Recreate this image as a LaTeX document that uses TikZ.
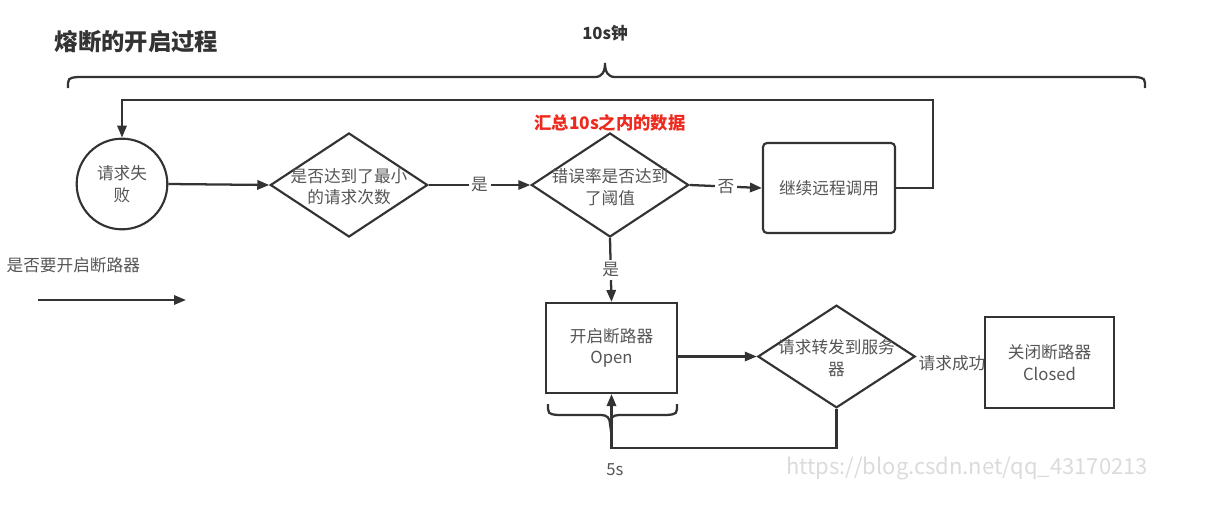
\documentclass[tikz,border=0pt]{standalone}
\usepackage{fontspec}
\setmainfont{Noto Sans CJK SC}
\usetikzlibrary{shapes.geometric,arrows.meta}
\definecolor{ln}{HTML}{333333}
\definecolor{tx}{HTML}{555555}
\definecolor{rd}{HTML}{EE2A1E}
\begin{document}
\begin{tikzpicture}[x=0.75pt,y=-0.75pt,
  conn/.style={draw=ln,line width=1.7pt},
  arr/.style={draw=ln,line width=1.7pt,-{Triangle[length=9pt,width=7pt]}},
  shp/.style={draw=ln,line width=1.6pt,inner sep=0pt,fill=white},
  txt/.style={text=tx,font=\fontsize{12.5}{16}\selectfont,align=center,inner sep=1pt},
  lbl/.style={txt,fill=white,inner sep=2pt},
  dia/.style={shp,diamond,minimum width=118pt,minimum height=78pt}
]
\useasboundingbox (0,0) rectangle (1207,532);

% title and top brace
\node[anchor=west,text=ln,font=\fontsize{17.5}{20}\selectfont\bfseries] (title) at (50,42) {熔断的开启过程};
\node[text=ln,font=\fontsize{12.5}{15}\selectfont\bfseries] (tens) at (605,33) {10s钟};
\draw[conn] (68,88) .. controls (68,78) .. (78,77) -- (595,77)
  .. controls (602,77) and (605,72) .. (605,63)
  .. controls (605,72) and (608,77) .. (615,77) -- (1135,77)
  .. controls (1145,78) .. (1145,88);

% nodes
\node[shp,circle,minimum size=68pt,txt,draw=ln] (fail) at (122,184) {请求失\\败};
\node[dia] (d1) at (349,185) {};
\node[txt] (d1t) at (349,187) {是否达到了最小\\的请求次数};
\node[dia] (d2) at (610,185) {};
\node[txt] (d2t) at (610,187) {错误率是否达到\\了阈值};
\node[text=rd,font=\fontsize{13}{15}\selectfont\bfseries] (sum) at (610,123) {汇总10s之内的数据};
\node[shp,rectangle,rounded corners=3pt,minimum width=99pt,minimum height=67.5pt,txt,draw=ln] (cont) at (829,188) {继续远程调用};

\node[shp,rectangle,minimum width=98pt,minimum height=67.5pt,txt,draw=ln] (open) at (611.5,348) {开启断路器\\Open};
\node[dia,minimum width=118pt,minimum height=77pt] (d3) at (836.5,356.5) {};
\node[txt] (d3t) at (836.5,358) {请求转发到服务\\器};
\node[txt,inner sep=0pt] (succ) at (952,363) {请求成功};
\node[shp,rectangle,minimum width=97pt,minimum height=68pt,txt,draw=ln] (closed) at (1049.5,362.5) {关闭断路器\\Closed};

% connectors
\draw[arr] (fail.east) -- (d1.west);
\draw[arr] (d1.east) -- node[lbl] {是} (d2.west);
\draw[arr] (d2.east) -- node[lbl] {否} (cont.west);
\draw[arr] (d2.south) -- node[lbl] {是} (open.north);
\coordinate (lp) at (933,100);
\draw[arr] (cont.east) -| (lp) -| (fail.north);
\draw[arr] (open.east |- d3.west) -- (d3.west);
\coordinate (lb) at (836.5,448);
\draw[arr] (d3.south) -- (lb) -| (open.south);

% lower brace
\draw[conn] (548,404) .. controls (548,414) .. (558,415) -- (601,415)
  .. controls (607,415) and (610,418) .. (610,424)
  .. controls (610,418) and (613,415) .. (619,415) -- (667,415)
  .. controls (677,414) .. (677,404);
\node[txt] (five) at (615,470) {5s};

% legend
\node[txt,anchor=west] (legend) at (5,265) {是否要开启断路器};
\coordinate (la) at (38,300);
\coordinate (lz) at (186,300);
\draw[arr] (la) -- (lz);

% watermark
\node[text=black!14,font=\fontsize{16.5}{18}\selectfont] (wm) at (967,468) {https://blog.csdn.net/qq\_43170213};
\end{tikzpicture}
\end{document}
